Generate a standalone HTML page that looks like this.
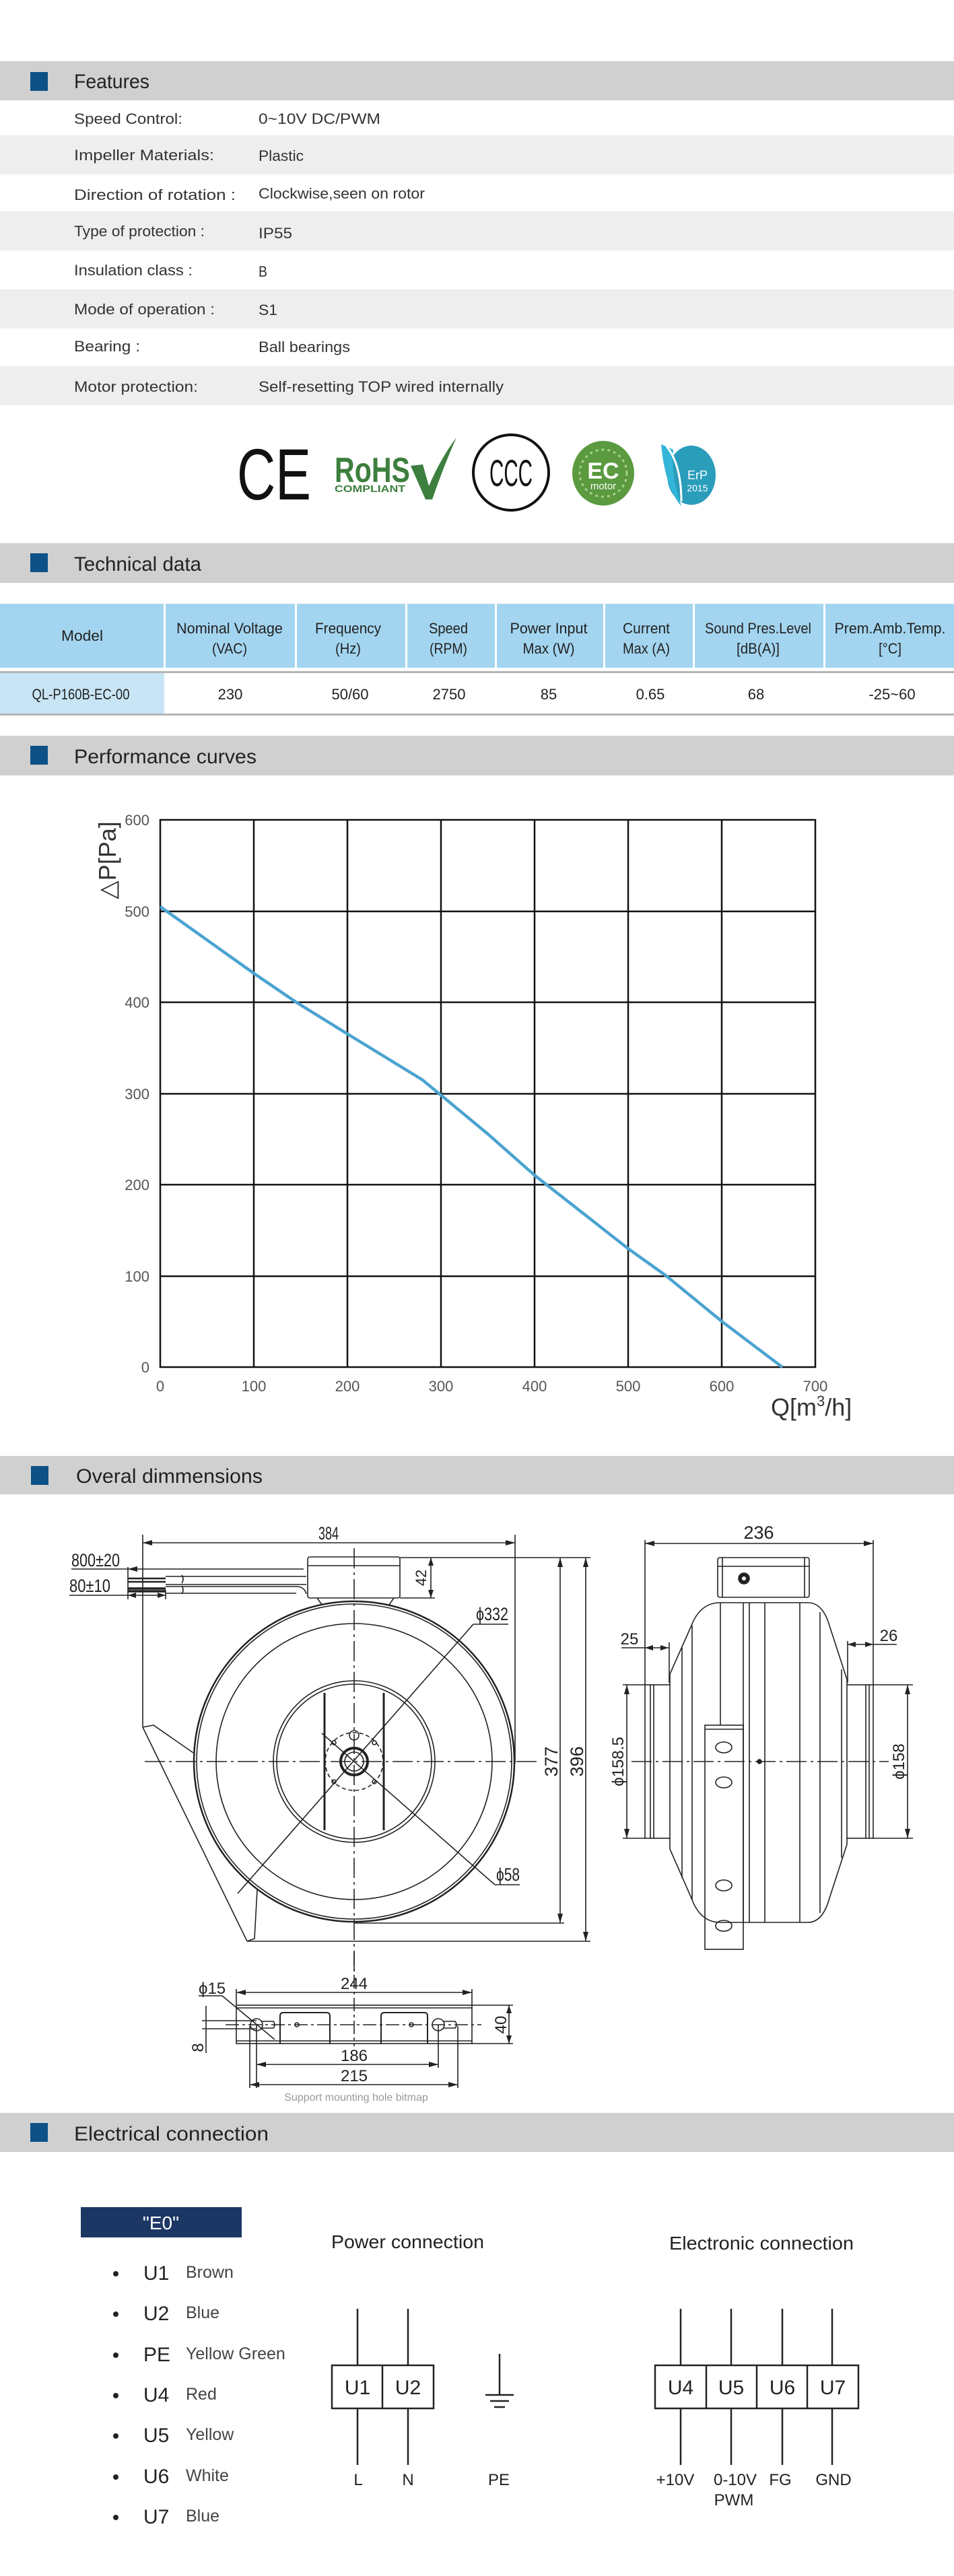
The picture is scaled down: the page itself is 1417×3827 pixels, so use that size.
<!DOCTYPE html>
<html><head><meta charset="utf-8"><style>
html,body{margin:0;padding:0;background:#fff}
svg{display:block}
text{font-family:"Liberation Sans",sans-serif}
.lb{font-size:22px;fill:#333}
.hd{font-size:30px;fill:#222}
.th{font-size:22px;fill:#222}
.ax{font-size:22px;fill:#555}
.dm{font-family:"Liberation Serif",serif;font-size:27px;fill:#222}
.el{font-size:30px;fill:#222}
.el2{font-size:25px;fill:#444}
</style></head><body>
<svg width="1417" height="3827" viewBox="0 0 1417 3827" xmlns="http://www.w3.org/2000/svg">
<rect x="0" y="91" width="1417" height="58" fill="#d0d0d0"/>
<rect x="45" y="107" width="26" height="28" fill="#0d5186"/>
<text x="110" y="131" class="hd" textLength="112" lengthAdjust="spacingAndGlyphs">Features</text>
<rect x="0" y="201" width="1417" height="58" fill="#eeeeee"/>
<rect x="0" y="314" width="1417" height="58" fill="#eeeeee"/>
<rect x="0" y="430" width="1417" height="58" fill="#eeeeee"/>
<rect x="0" y="544" width="1417" height="58" fill="#eeeeee"/>
<g class="lb">
<text x="110" y="184" textLength="161" lengthAdjust="spacingAndGlyphs">Speed Control:</text>
<text x="384" y="184" textLength="181" lengthAdjust="spacingAndGlyphs">0~10V DC/PWM</text>
<text x="110" y="238" textLength="208" lengthAdjust="spacingAndGlyphs">Impeller  Materials:</text>
<text x="384" y="239" textLength="67" lengthAdjust="spacingAndGlyphs">Plastic</text>
<text x="110" y="297" textLength="240" lengthAdjust="spacingAndGlyphs">Direction  of  rotation  :</text>
<text x="384" y="295" textLength="247" lengthAdjust="spacingAndGlyphs">Clockwise,seen on rotor</text>
<text x="110" y="351" textLength="194" lengthAdjust="spacingAndGlyphs">Type of protection :</text>
<text x="384" y="354" textLength="50" lengthAdjust="spacingAndGlyphs">IP55</text>
<text x="110" y="409" textLength="176" lengthAdjust="spacingAndGlyphs">Insulation  class :</text>
<text x="384" y="411" textLength="13" lengthAdjust="spacingAndGlyphs">B</text>
<text x="110" y="467" textLength="209" lengthAdjust="spacingAndGlyphs">Mode of operation :</text>
<text x="384" y="468" textLength="28" lengthAdjust="spacingAndGlyphs">S1</text>
<text x="110" y="522" textLength="98" lengthAdjust="spacingAndGlyphs">Bearing :</text>
<text x="384" y="523" textLength="136" lengthAdjust="spacingAndGlyphs">Ball bearings</text>
<text x="110" y="582" textLength="184" lengthAdjust="spacingAndGlyphs">Motor protection:</text>
<text x="384" y="582" textLength="364" lengthAdjust="spacingAndGlyphs">Self-resetting TOP wired internally</text>
</g>
<text x="352" y="742" font-size="108" font-family="Liberation Sans" fill="#111" textLength="110" lengthAdjust="spacingAndGlyphs">CE</text>
<text x="497" y="716" font-size="52" font-weight="bold" fill="#3d7f3e" textLength="112" lengthAdjust="spacingAndGlyphs">RoHS</text>
<text x="497" y="731" font-size="15" font-weight="bold" fill="#3d7f3e" textLength="105" lengthAdjust="spacingAndGlyphs">COMPLIANT</text>
<path d="M610 692 L628 690 L637 722 Q655 680 678 650 Q660 690 642 742 L632 742 Z" fill="#3d7f3e"/>
<circle cx="759" cy="702" r="56" fill="none" stroke="#111" stroke-width="4"/>
<text x="759" y="722" font-size="56" text-anchor="middle" fill="#111" textLength="64" lengthAdjust="spacingAndGlyphs">CCC</text>
<ellipse cx="896" cy="703" rx="46" ry="48" fill="#5b9a3f"/>
<circle cx="896" cy="703" r="35" fill="none" stroke="#a9cf8e" stroke-width="3" stroke-dasharray="4 5"/>
<text x="896" y="711" font-size="34" font-weight="bold" text-anchor="middle" fill="#fff">EC</text>
<text x="896" y="727" font-size="15" text-anchor="middle" fill="#fff">motor</text>
<ellipse cx="1027" cy="706" rx="36" ry="44" fill="#2a9dbb"/>
<path d="M982 660 Q988 725 1012 752 Q996 705 1000 668 Z" fill="#33b6d8"/>
<path d="M990 663 Q1012 690 1012 745" fill="none" stroke="#fff" stroke-width="3"/>
<text x="1036" y="712" font-size="18" fill="#fff" text-anchor="middle">ErP</text>
<text x="1036" y="730" font-size="14" fill="#fff" text-anchor="middle">2015</text>

<rect x="0" y="807" width="1417" height="59" fill="#d0d0d0"/>
<rect x="45" y="822" width="26" height="28" fill="#0d5186"/>
<text x="110" y="848" class="hd" textLength="189" lengthAdjust="spacingAndGlyphs">Technical data</text>
<g fill="#a3d5f0">
<rect x="0" y="897" width="243" height="95"/>
<rect x="246" y="897" width="192" height="95"/>
<rect x="441" y="897" width="161" height="95"/>
<rect x="605" y="897" width="130" height="95"/>
<rect x="738" y="897" width="158" height="95"/>
<rect x="899" y="897" width="130" height="95"/>
<rect x="1032" y="897" width="191" height="95"/>
<rect x="1226" y="897" width="191" height="95"/>
</g>
<rect x="0" y="1000" width="244" height="61" fill="#c8e5f5"/>
<rect x="0" y="997" width="1417" height="3" fill="#b5b5b5"/>
<rect x="0" y="1060" width="1417" height="3" fill="#b5b5b5"/>
<g class="th" text-anchor="middle">
<text x="122" y="952" textLength="62" lengthAdjust="spacingAndGlyphs">Model</text>
<text x="341" y="941" textLength="158" lengthAdjust="spacingAndGlyphs">Nominal Voltage</text>
<text x="341" y="971" textLength="52" lengthAdjust="spacingAndGlyphs">(VAC)</text>
<text x="517" y="941" textLength="98" lengthAdjust="spacingAndGlyphs">Frequency</text>
<text x="517" y="971" textLength="38" lengthAdjust="spacingAndGlyphs">(Hz)</text>
<text x="666" y="941" textLength="58" lengthAdjust="spacingAndGlyphs">Speed</text>
<text x="666" y="971" textLength="56" lengthAdjust="spacingAndGlyphs">(RPM)</text>
<text x="815" y="941" textLength="115" lengthAdjust="spacingAndGlyphs">Power Input</text>
<text x="815" y="971" textLength="77" lengthAdjust="spacingAndGlyphs">Max (W)</text>
<text x="960" y="941" textLength="70" lengthAdjust="spacingAndGlyphs">Current</text>
<text x="960" y="971" textLength="70" lengthAdjust="spacingAndGlyphs">Max (A)</text>
<text x="1126" y="941" textLength="158" lengthAdjust="spacingAndGlyphs">Sound Pres.Level</text>
<text x="1126" y="971" textLength="64" lengthAdjust="spacingAndGlyphs">[dB(A)]</text>
<text x="1322" y="941" textLength="165" lengthAdjust="spacingAndGlyphs">Prem.Amb.Temp.</text>
<text x="1322" y="971" textLength="34" lengthAdjust="spacingAndGlyphs">[°C]</text>
<text x="120" y="1039" textLength="145" lengthAdjust="spacingAndGlyphs">QL-P160B-EC-00</text>
<text x="342" y="1039">230</text>
<text x="520" y="1039">50/60</text>
<text x="667" y="1039">2750</text>
<text x="815" y="1039">85</text>
<text x="966" y="1039">0.65</text>
<text x="1123" y="1039">68</text>
<text x="1325" y="1039">-25~60</text>
</g>

<rect x="0" y="1093" width="1417" height="59" fill="#d0d0d0"/>
<rect x="45" y="1108" width="26" height="28" fill="#0d5186"/>
<text x="110" y="1134" class="hd" textLength="271" lengthAdjust="spacingAndGlyphs">Performance curves</text>
<g stroke="#111" stroke-width="2.5" fill="none">
<rect x="238" y="1218" width="973" height="813"/>
<line x1="377" y1="1218" x2="377" y2="2031"/>
<line x1="516" y1="1218" x2="516" y2="2031"/>
<line x1="655" y1="1218" x2="655" y2="2031"/>
<line x1="794" y1="1218" x2="794" y2="2031"/>
<line x1="933" y1="1218" x2="933" y2="2031"/>
<line x1="1072" y1="1218" x2="1072" y2="2031"/>
<line x1="238" y1="1354" x2="1211" y2="1354"/>
<line x1="238" y1="1489" x2="1211" y2="1489"/>
<line x1="238" y1="1625" x2="1211" y2="1625"/>
<line x1="238" y1="1760" x2="1211" y2="1760"/>
<line x1="238" y1="1896" x2="1211" y2="1896"/>
</g>
<polyline points="238,1347 377,1446 440,1489 516,1536 627,1604 655,1627 725,1685 794,1746 933,1855 989,1895 1072,1963 1162,2031" fill="none" stroke="#4aa3d0" stroke-width="4.5" stroke-linejoin="round"/>
<g class="ax" text-anchor="end">
<text x="222" y="1226">600</text><text x="222" y="1362">500</text><text x="222" y="1497">400</text>
<text x="222" y="1633">300</text><text x="222" y="1768">200</text><text x="222" y="1904">100</text><text x="222" y="2039">0</text>
</g>
<g class="ax" text-anchor="middle">
<text x="238" y="2067">0</text><text x="377" y="2067">100</text><text x="516" y="2067">200</text><text x="655" y="2067">300</text>
<text x="794" y="2067">400</text><text x="933" y="2067">500</text><text x="1072" y="2067">600</text><text x="1211" y="2067">700</text>
</g>
<text x="1145" y="2103" font-size="36" fill="#333">Q[m<tspan font-size="22" dy="-14">3</tspan><tspan dy="14">/h]</tspan></text>
<text transform="translate(172,1336) rotate(-90)" font-size="36" fill="#333">△P[Pa]</text>

<rect x="0" y="2163" width="1417" height="57" fill="#d0d0d0"/>
<rect x="46" y="2178" width="26" height="28" fill="#0d5186"/>
<text x="113" y="2203" class="hd" textLength="277" lengthAdjust="spacingAndGlyphs">Overal dimmensions</text>

<g stroke="#222" stroke-width="1.6" fill="none">
<circle cx="526" cy="2617" r="238" stroke-width="2.5"/>
<circle cx="526" cy="2617" r="234"/>
<circle cx="526" cy="2617" r="205"/>
<circle cx="526" cy="2617" r="120"/>
<circle cx="526" cy="2617" r="115"/>
<circle cx="526" cy="2617" r="43" stroke-dasharray="6 4"/>
<circle cx="526" cy="2617" r="20" stroke-width="4"/>
<circle cx="526" cy="2617" r="14"/>
<circle cx="526" cy="2578" r="7"/>
<line x1="482" y1="2515" x2="482" y2="2719" stroke-width="3"/>
<line x1="570" y1="2515" x2="570" y2="2719" stroke-width="3"/>
<circle cx="496" cy="2589" r="3"/><circle cx="556" cy="2589" r="3"/><circle cx="496" cy="2647" r="3"/><circle cx="556" cy="2647" r="3"/>
<line x1="215" y1="2617" x2="798" y2="2617" stroke-dasharray="30 6 4 6"/>
<line x1="526" y1="2300" x2="526" y2="2935" stroke-dasharray="30 6 4 6"/>
<line x1="703" y1="2413" x2="353" y2="2813"/>
<line x1="478" y1="2575" x2="735" y2="2800"/>
<line x1="735" y1="2800" x2="772" y2="2800"/>
<line x1="703" y1="2413" x2="755" y2="2413"/>
<rect x="457" y="2313" width="137" height="61" rx="3"/>
<line x1="457" y1="2326" x2="594" y2="2326"/>
<path d="M471 2374 L478 2384 M585 2374 L578 2384"/>
<path d="M246 2342 L455 2342 M246 2354 L455 2354 M246 2357 L440 2357 Q452 2357 455 2368 M246 2367 L440 2367"/>
<path d="M190 2345 H246 M190 2350 H246" stroke-width="2.5"/>
<path d="M190 2360 H246 M190 2364 H246" stroke-width="3.5"/>
<path d="M270 2340 q4 6 0 12 M270 2356 q4 6 0 12"/>
<line x1="212" y1="2292" x2="765" y2="2292"/>
<line x1="212" y1="2280" x2="212" y2="2566"/>
<line x1="765" y1="2280" x2="765" y2="2620"/>
<line x1="594" y1="2314" x2="877" y2="2314"/>
<line x1="526" y1="2857" x2="838" y2="2857"/>
<line x1="367" y1="2884" x2="877" y2="2884"/>
<line x1="832" y1="2314" x2="832" y2="2857"/>
<line x1="870" y1="2314" x2="870" y2="2884"/>
<line x1="594" y1="2374" x2="646" y2="2374"/>
<line x1="640" y1="2314" x2="640" y2="2374"/>
<line x1="106" y1="2331" x2="451" y2="2331"/>
<line x1="103" y1="2370" x2="246" y2="2370"/>
<line x1="190" y1="2328" x2="190" y2="2376"/>
<line x1="246" y1="2362" x2="246" y2="2376"/>
<path d="M212 2566 L367 2884 M212 2566 L228 2563 L287 2604 M382 2808 L378 2880 L367 2884"/>

<line x1="958" y1="2293" x2="1297" y2="2293"/>
<line x1="958" y1="2288" x2="958" y2="2503"/>
<line x1="1297" y1="2288" x2="1297" y2="2503"/>
<rect x="1066" y="2314" width="136" height="59" rx="3"/>
<line x1="1066" y1="2327" x2="1202" y2="2327"/>
<line x1="1073" y1="2314" x2="1073" y2="2373"/><line x1="1195" y1="2314" x2="1195" y2="2373"/>
<circle cx="1105" cy="2345" r="8" fill="#222"/><circle cx="1105" cy="2345" r="3" fill="#fff" stroke="none"/>
<path d="M995 2503 L995 2487 L1027 2415 Q1040 2381 1070 2381 L1200 2381 Q1222 2381 1232 2415 L1258 2495 L1258 2503 M995 2731 L995 2747 L1027 2820 Q1040 2856 1070 2856 L1200 2856 Q1222 2856 1232 2820 L1258 2740 L1258 2731"/>
<rect x="958" y="2503" width="37" height="228"/>
<line x1="966" y1="2503" x2="966" y2="2731"/><line x1="971" y1="2503" x2="971" y2="2731"/>
<rect x="1258" y="2503" width="39" height="228"/>
<line x1="1286" y1="2503" x2="1286" y2="2731"/><line x1="1291" y1="2503" x2="1291" y2="2731"/>
<line x1="1013" y1="2448" x2="1013" y2="2790"/>
<line x1="1028" y1="2415" x2="1028" y2="2822"/>
<line x1="1070" y1="2381" x2="1070" y2="2563"/>
<line x1="1104" y1="2381" x2="1104" y2="2856"/>
<line x1="1113" y1="2381" x2="1113" y2="2856"/>
<line x1="1136" y1="2381" x2="1136" y2="2856"/>
<line x1="1188" y1="2381" x2="1188" y2="2856"/>
<line x1="1218" y1="2395" x2="1218" y2="2842"/>
<line x1="1250" y1="2480" x2="1250" y2="2760"/>
<rect x="1047" y="2563" width="57" height="333"/>
<line x1="1047" y1="2569" x2="1104" y2="2569"/>
<ellipse cx="1075" cy="2596" rx="12" ry="8"/>
<ellipse cx="1075" cy="2648" rx="12" ry="8"/>
<ellipse cx="1075" cy="2801" rx="12" ry="8"/>
<ellipse cx="1075" cy="2861" rx="12" ry="8"/>
<circle cx="1128" cy="2617" r="3" fill="#222"/>
<line x1="938" y1="2617" x2="1320" y2="2617" stroke-dasharray="30 6 4 6"/>
<line x1="923" y1="2448" x2="993" y2="2448"/>
<line x1="994" y1="2440" x2="994" y2="2500"/>
<line x1="1259" y1="2443" x2="1332" y2="2443"/>
<line x1="1259" y1="2438" x2="1259" y2="2500"/>
<line x1="925" y1="2503" x2="958" y2="2503"/><line x1="925" y1="2731" x2="958" y2="2731"/>
<line x1="931" y1="2503" x2="931" y2="2731"/>
<line x1="1297" y1="2503" x2="1356" y2="2503"/><line x1="1297" y1="2731" x2="1356" y2="2731"/>
<line x1="1348" y1="2503" x2="1348" y2="2731"/>

<rect x="351" y="2979" width="350" height="57"/>
<line x1="351" y1="2983" x2="701" y2="2983"/>
<line x1="351" y1="3032" x2="701" y2="3032"/>
<path d="M416 3036 L416 2995 Q416 2990 421 2990 L485 2990 Q490 2990 490 2995 L490 3036 M566 3036 L566 2995 Q566 2990 571 2990 L630 2990 Q635 2990 635 2995 L635 3036" stroke-width="2"/>
<circle cx="381" cy="3008" r="9"/><path d="M388 3003 H406 Q410 3008 406 3013 H388"/>
<circle cx="651" cy="3008" r="9"/><path d="M658 3003 H676 Q680 3008 676 3013 H658"/>
<circle cx="441" cy="3008" r="3"/><circle cx="611" cy="3008" r="3"/>
<line x1="335" y1="3008" x2="715" y2="3008" stroke-dasharray="20 5 4 5"/>
<line x1="526" y1="2900" x2="526" y2="3040" stroke-dasharray="20 5 4 5"/>
<line x1="351" y1="2955" x2="351" y2="2979"/><line x1="701" y1="2955" x2="701" y2="2979"/>
<line x1="351" y1="2960" x2="701" y2="2960"/>
<line x1="701" y1="2979" x2="762" y2="2979"/><line x1="701" y1="3036" x2="762" y2="3036"/>
<line x1="756" y1="2979" x2="756" y2="3036"/>
<line x1="381" y1="3008" x2="381" y2="3102"/><line x1="651" y1="3008" x2="651" y2="3072"/>
<line x1="371" y1="3010" x2="371" y2="3102"/><line x1="680" y1="3010" x2="680" y2="3102"/>
<line x1="381" y1="3067" x2="651" y2="3067"/>
<line x1="371" y1="3097" x2="680" y2="3097"/>
<line x1="295" y1="2965" x2="330" y2="2965"/><line x1="330" y1="2965" x2="408" y2="3030"/>
<line x1="300" y1="3002" x2="381" y2="3002"/><line x1="300" y1="3014" x2="381" y2="3014"/>
<line x1="306" y1="2980" x2="306" y2="3050"/>
</g>
<g fill="#222">
<path d="M212 2292 l14 -4 v8z M765 2292 l-14 -4 v8z"/>
<path d="M832 2314 l-4 14 h8z M832 2857 l-4 -14 h8z M870 2314 l-4 14 h8z M870 2884 l-4 -14 h8z"/>
<path d="M640 2314 l-4 12 h8z M640 2374 l-4 -12 h8z"/>
<path d="M190 2331 l14 -4 v8z M190 2370 l12 -4 v8z M246 2370 l-12 -4 v8z"/>
<path d="M958 2293 l14 -4 v8z M1297 2293 l-14 -4 v8z"/>
<path d="M958 2448 l12 -4 v8z M993 2448 l-12 -4 v8z M1259 2443 l12 -4 v8z M1297 2443 l-12 -4 v8z"/>
<path d="M931 2503 l-4 14 h8z M931 2731 l-4 -14 h8z M1348 2503 l-4 14 h8z M1348 2731 l-4 -14 h8z"/>
<path d="M351 2960 l14 -4 v8z M701 2960 l-14 -4 v8z M381 3067 l14 -4 v8z M651 3067 l-14 -4 v8z M371 3097 l14 -4 v8z M680 3097 l-14 -4 v8z M756 2979 l-4 12 h8z M756 3036 l-4 -12 h8z"/>
</g>
<g class="dm">
<text x="488" y="2287" text-anchor="middle" textLength="30" lengthAdjust="spacingAndGlyphs">384</text>
<text x="106" y="2327" textLength="72" lengthAdjust="spacingAndGlyphs">800±20</text>
<text x="103" y="2365" textLength="61" lengthAdjust="spacingAndGlyphs">80±10</text>
<text transform="translate(633,2344) rotate(-90)" text-anchor="middle" font-size="22">42</text>
<text x="707" y="2407" textLength="48" lengthAdjust="spacingAndGlyphs">ϕ332</text>
<text x="737" y="2794" textLength="35" lengthAdjust="spacingAndGlyphs">ϕ58</text>
<text transform="translate(828,2617) rotate(-90)" text-anchor="middle">377</text>
<text transform="translate(866,2617) rotate(-90)" text-anchor="middle">396</text>
<text x="1127" y="2286" text-anchor="middle">236</text>
<text x="935" y="2443" text-anchor="middle" font-size="24">25</text>
<text x="1320" y="2438" text-anchor="middle" font-size="24">26</text>
<text transform="translate(926,2617) rotate(-90)" text-anchor="middle" font-size="24">ϕ158.5</text>
<text transform="translate(1343,2617) rotate(-90)" text-anchor="middle" font-size="24">ϕ158</text>
<text x="526" y="2955" text-anchor="middle" font-size="24">244</text>
<text x="295" y="2962" font-size="24">ϕ15</text>
<text transform="translate(302,3042) rotate(-90)" text-anchor="middle" font-size="24">8</text>
<text transform="translate(752,3008) rotate(-90)" text-anchor="middle" font-size="24">40</text>
<text x="526" y="3062" text-anchor="middle" font-size="24">186</text>
<text x="526" y="3092" text-anchor="middle" font-size="24">215</text>
</g>
<text x="529" y="3121" text-anchor="middle" font-size="16" fill="#999">Support mounting hole bitmap</text>

<rect x="0" y="3139" width="1417" height="58" fill="#d0d0d0"/>
<rect x="45" y="3154" width="26" height="28" fill="#0d5186"/>
<text x="110" y="3180" class="hd" textLength="289" lengthAdjust="spacingAndGlyphs">Electrical  connection</text>
<rect x="120" y="3279" width="239" height="45" fill="#1c3764"/>
<text x="239" y="3312" font-size="28" fill="#fff" text-anchor="middle">"E0"</text>
<g fill="#222">
<circle cx="172" cy="3378" r="4"/><circle cx="172" cy="3438" r="4"/><circle cx="172" cy="3499" r="4"/><circle cx="172" cy="3559" r="4"/>
<circle cx="172" cy="3619" r="4"/><circle cx="172" cy="3680" r="4"/><circle cx="172" cy="3740" r="4"/>
</g>
<g class="el">
<text x="213" y="3387">U1</text><text x="213" y="3447">U2</text><text x="213" y="3508">PE</text><text x="213" y="3568">U4</text>
<text x="213" y="3628">U5</text><text x="213" y="3689">U6</text><text x="213" y="3749">U7</text>
</g>
<g class="el2">
<text x="276" y="3384">Brown</text><text x="276" y="3444">Blue</text><text x="276" y="3505">Yellow Green</text><text x="276" y="3565">Red</text>
<text x="276" y="3625">Yellow</text><text x="276" y="3686">White</text><text x="276" y="3746">Blue</text>
</g>
<text x="492" y="3340" font-size="28" fill="#222" textLength="227" lengthAdjust="spacingAndGlyphs">Power connection</text>
<text x="994" y="3342" font-size="28" fill="#222" textLength="274" lengthAdjust="spacingAndGlyphs">Electronic connection</text>
<g stroke="#222" stroke-width="2.5" fill="none">
<rect x="493" y="3514" width="151" height="64"/>
<line x1="568" y1="3514" x2="568" y2="3578"/>
<line x1="531" y1="3430" x2="531" y2="3514"/><line x1="531" y1="3578" x2="531" y2="3662"/>
<line x1="606" y1="3430" x2="606" y2="3514"/><line x1="606" y1="3578" x2="606" y2="3662"/>
<line x1="742" y1="3497" x2="742" y2="3558"/>
<line x1="721" y1="3558" x2="763" y2="3558"/><line x1="728" y1="3567" x2="756" y2="3567"/><line x1="734" y1="3576" x2="750" y2="3576"/>
<rect x="973" y="3514" width="302" height="64"/>
<line x1="1049" y1="3514" x2="1049" y2="3578"/><line x1="1124" y1="3514" x2="1124" y2="3578"/><line x1="1199" y1="3514" x2="1199" y2="3578"/>
<line x1="1011" y1="3430" x2="1011" y2="3514"/><line x1="1011" y1="3578" x2="1011" y2="3662"/>
<line x1="1086" y1="3430" x2="1086" y2="3514"/><line x1="1086" y1="3578" x2="1086" y2="3662"/>
<line x1="1162" y1="3430" x2="1162" y2="3514"/><line x1="1162" y1="3578" x2="1162" y2="3662"/>
<line x1="1236" y1="3430" x2="1236" y2="3514"/><line x1="1236" y1="3578" x2="1236" y2="3662"/>
</g>
<g class="el" text-anchor="middle">
<text x="531" y="3557">U1</text><text x="606" y="3557">U2</text>
<text x="1011" y="3557">U4</text><text x="1086" y="3557">U5</text><text x="1162" y="3557">U6</text><text x="1237" y="3557">U7</text>
</g>
<g font-size="24" fill="#222" text-anchor="middle">
<text x="532" y="3692">L</text><text x="606" y="3692">N</text><text x="741" y="3692">PE</text>
<text x="1003" y="3692">+10V</text><text x="1092" y="3692">0-10V</text><text x="1159" y="3692">FG</text><text x="1238" y="3692">GND</text>
<text x="1090" y="3722">PWM</text>
</g>
</svg>
</body></html>
